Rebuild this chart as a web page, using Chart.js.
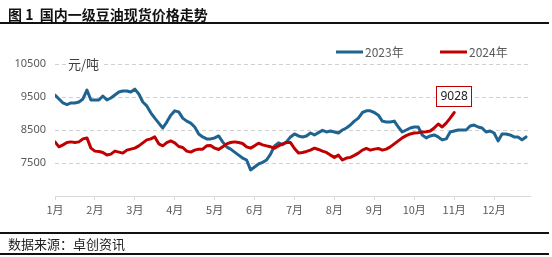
<!DOCTYPE html>
<html>
<head>
<meta charset="utf-8">
<script src="https://cdn.jsdelivr.net/npm/chart.js@4/dist/chart.umd.min.js"></script>
<style>
  html, body { margin: 0; padding: 0; background: #fff; }
  #wrap { position: relative; width: 552px; height: 257px; overflow: hidden; background: #fff; }
  #title { position: absolute; left: 8px; top: 4px; font: bold 14px "Noto Sans CJK SC", sans-serif; color: #111; line-height: 20px; white-space: nowrap; }
  .rule { position: absolute; left: 0; width: 549px; height: 2px; background: #111; }
  #src { position: absolute; left: 8px; top: 234px; font: 13px "Noto Sans CJK SC", sans-serif; color: #222; line-height: 19px; white-space: nowrap; }
  canvas { position: absolute; left: 0; top: 0; }
</style>
</head>
<body>
<div id="wrap">
  <canvas id="c" width="552" height="257"></canvas>
  <div id="title">图 1&nbsp;&nbsp;国内一级豆油现货价格走势</div>
  <div class="rule" style="top:22px"></div>
  <div class="rule" style="top:232px"></div>
  <div id="src">数据来源：卓创资讯</div>
  <div class="rule" style="top:253px"></div>
</div>
<script>
// ---- data (one sample roughly every 3 days; 10 samples per month) ----
const MONTH_LABELS = ['1月','2月','3月','4月','5月','6月','7月','8月','9月','10月','11月','12月'];
const SAMPLES_PER_MONTH = 10;
const SERIES_NAMES = ['2023年', '2024年'];
const Y_TICKS = [6500, 7500, 8500, 9500, 10500];
const UNIT = '元/吨';
const LAST_LABEL = '9028';

const price2023 = [
  9560, 9440, 9320, 9270, 9320, 9320, 9350, 9440, 9710, 9410,
  9410, 9410, 9530, 9410, 9470, 9560, 9650, 9680, 9680, 9650,
  9740, 9590, 9350, 9230, 9020, 8860, 8710, 8560, 8740, 8950,
  9080, 9050, 8860, 8770, 8710, 8590, 8380, 8290, 8230, 8230,
  8260, 8320, 8140, 7990, 7920, 7830, 7740, 7650, 7590, 7290,
  7380, 7470, 7520, 7590, 7770, 8020, 8110, 8050, 8140, 8290,
  8380, 8320, 8290, 8320, 8410, 8350, 8420, 8490, 8440, 8470,
  8440, 8410, 8500, 8560, 8650, 8770, 8860, 9030, 9080, 9080,
  9030, 8950, 8770, 8740, 8740, 8770, 8590, 8440, 8500, 8560,
  8590, 8590, 8350, 8260, 8320, 8350, 8290, 8200, 8230, 8440,
  8470, 8500, 8500, 8500, 8620, 8650, 8590, 8560, 8440, 8470,
  8410, 8170, 8380, 8380, 8350, 8290, 8290, 8200, 8290
];

const price2024 = [
  8140, 7990, 8050, 8120, 8140, 8120, 8140, 8230, 8260, 7950,
  7860, 7850, 7820, 7740, 7770, 7860, 7830, 7800, 7890, 7920,
  7950, 8020, 8110, 8200, 8230, 8290, 8080, 8020, 8120, 8170,
  8110, 8000, 7970, 7860, 7830, 7890, 7920, 7920, 8020, 8030,
  7950, 7910, 7990, 8080, 8120, 8140, 8120, 8090, 7990, 7950,
  8020, 8100, 8050, 8020, 7990, 7950, 8020, 8080, 8120, 8120,
  7940, 7800, 7820, 7850, 7890, 7950, 7910, 7860, 7820, 7740,
  7670, 7740, 7590, 7650, 7670, 7730, 7800, 7890, 7940, 7890,
  7920, 7940, 7890, 7920, 7990, 8080, 8170, 8260, 8330, 8380,
  8410, 8420, 8440, 8450, 8470, 8560, 8680, 8590, 8710, 8860,
  9028
];

const COLORS = ['#1f6391', '#c00000'];

function toPoints(arr) {
  return arr.map((v, i) => ({ x: i / SAMPLES_PER_MONTH, y: v }));
}

const decor = {
  id: 'decor',
  afterDraw(chart) {
    const ctx = chart.ctx;
    const ys = chart.scales.y;
    const ca = chart.chartArea;
    ctx.save();
    // unit label on top gridline
    ctx.font = '13px "Noto Sans CJK SC", sans-serif';
    ctx.textBaseline = 'middle';
    const uy = ys.getPixelForValue(10500);
    const uw = ctx.measureText(UNIT).width;
    ctx.fillStyle = '#fff';
    ctx.fillRect(ca.left + 11, uy - 8, uw + 6, 16);
    ctx.fillStyle = '#404040';
    ctx.fillText(UNIT, ca.left + 13, uy);

    // legend
    const legendY = 52;
    const items = [{x: 336, i: 0}, {x: 440, i: 1}];
    ctx.font = '12px "Noto Sans CJK SC", sans-serif';
    items.forEach(it => {
      ctx.strokeStyle = COLORS[it.i];
      ctx.lineWidth = 3;
      ctx.beginPath();
      ctx.moveTo(it.x, legendY);
      ctx.lineTo(it.x + 27, legendY);
      ctx.stroke();
      ctx.fillStyle = '#595959';
      ctx.fillText(SERIES_NAMES[it.i], it.x + 29, legendY);
    });

    // last value label
    const meta = chart.getDatasetMeta(1);
    const last = meta.data[meta.data.length - 1];
    const bx = last.x, by = last.y - 7;
    ctx.font = '12px "Noto Sans", sans-serif';
    const tw = ctx.measureText(LAST_LABEL).width;
    const w = tw + 8, h = 20;
    ctx.fillStyle = '#fff';
    ctx.fillRect(bx - w / 2, by - h, w, h);
    ctx.strokeStyle = '#c00000';
    ctx.lineWidth = 1;
    ctx.strokeRect(Math.round(bx - w / 2) + 0.5, Math.round(by - h) + 0.5, Math.round(w), h);
    ctx.fillStyle = '#222';
    ctx.textAlign = 'center';
    ctx.fillText(LAST_LABEL, bx, by - h / 2 + 1);
    ctx.restore();
  }
};

new Chart(document.getElementById('c'), {
  type: 'line',
  data: {
    datasets: [
      { label: SERIES_NAMES[0], data: toPoints(price2023), borderColor: COLORS[0], order: 1 },
      { label: SERIES_NAMES[1], data: toPoints(price2024), borderColor: COLORS[1], order: 0 }
    ]
  },
  options: {
    responsive: false,
    animation: false,
    devicePixelRatio: 1,
    layout: { padding: { left: 0, top: 64, right: 22, bottom: 0 } },
    elements: {
      line: { borderWidth: 3, tension: 0, borderJoinStyle: 'round', borderCapStyle: 'round' },
      point: { radius: 0 }
    },
    plugins: { legend: { display: false }, tooltip: { enabled: false } },
    scales: {
      x: {
        type: 'linear',
        min: 0,
        max: 11.9,
        afterBuildTicks(scale) { scale.ticks = MONTH_LABELS.map((_, i) => ({ value: i })); },
        afterFit(scale) { scale.height = 61; },
        ticks: {
          autoSkip: false,
          maxRotation: 0,
          padding: 3,
          color: '#595959',
          font: { size: 11, family: '"Noto Sans CJK SC", sans-serif' },
          callback: (v) => MONTH_LABELS[Math.round(v)] || ''
        },
        grid: { drawOnChartArea: false, drawTicks: true, tickLength: 4, color: '#d9d9d9' },
        border: { display: true, color: '#d9d9d9', width: 1 }
      },
      y: {
        min: 6500,
        max: 10500,
        afterBuildTicks(scale) { scale.ticks = Y_TICKS.map(v => ({ value: v })); },
        afterFit(scale) { scale.width = 55; },
        ticks: {
          padding: 9,
          color: '#595959',
          font: { size: 11, family: '"Noto Sans", sans-serif' },
          callback: (v) => v === 6500 ? '' : String(v)
        },
        grid: {
          drawTicks: false,
          color: (c) => (c.tick && c.tick.value === 6500) ? 'rgba(0,0,0,0)' : '#d0d0d0'
        },
        border: { display: false, dash: [4, 3] }
      }
    }
  },
  plugins: [decor]
});
</script>
</body>
</html>
